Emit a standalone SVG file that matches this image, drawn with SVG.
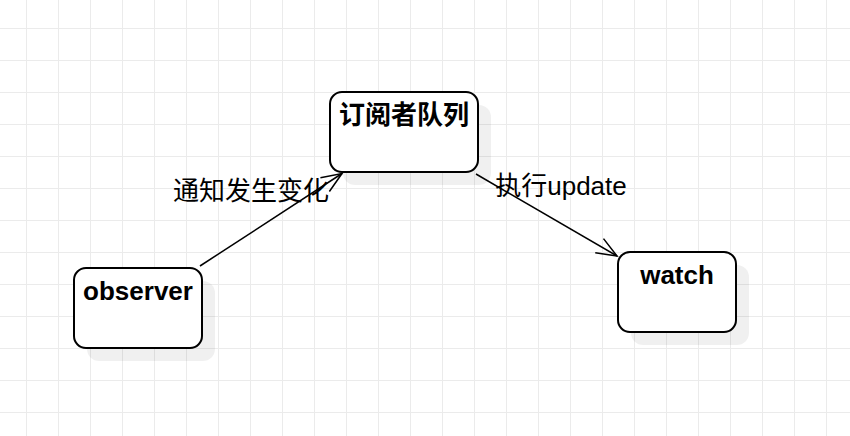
<svg xmlns="http://www.w3.org/2000/svg" width="850" height="436" viewBox="0 0 850 436">
<defs>
<pattern id="grid" x="26" y="28" width="32" height="32" patternUnits="userSpaceOnUse">
<path d="M0.5 0 V32 M0 0.5 H32" fill="none" stroke="#ebebeb" stroke-width="1"/>
</pattern>
<marker id="open" markerUnits="userSpaceOnUse" viewBox="-24 -12 28 24" refX="0" refY="0" markerWidth="28" markerHeight="24" orient="auto">
<path d="M-20.4 -8.2 L0 0 L-20.4 8.2" fill="none" stroke="#000" stroke-width="1.5"/>
</marker>
</defs>
<style>
.node{fill:#fff;stroke:#000;stroke-width:2}
.shadow{fill:#000;fill-opacity:0.06}
.title{font-family:"Liberation Sans","Noto Sans CJK SC",sans-serif;font-size:26px;font-weight:bold;text-anchor:middle;fill:#000}
.label{font-family:"Liberation Sans","Noto Sans CJK SC",sans-serif;font-size:26px;text-anchor:middle;fill:#000}
.edge{fill:none;stroke:#000;stroke-width:1.5;marker-end:url(#open)}
</style>
<rect width="850" height="436" fill="#fff"/>
<rect x="-1" y="-1" width="852" height="438" fill="url(#grid)"/>
<g id="connectors">
<path class="edge" d="M200 266 L342 173.5"/>
<path class="edge" d="M476 174 L617 256"/>
<text class="label" x="251" y="200">通知发生变化</text>
<text class="label" x="561" y="195">执行update</text>
</g>
<g id="queue">
<rect class="shadow" x="343" y="105" width="148" height="80" rx="12"/>
<rect class="node" x="330" y="92" width="148" height="80" rx="12"/>
<text class="title" x="404" y="124">订阅者队列</text>
</g>
<g id="observer">
<rect class="shadow" x="87" y="281" width="128" height="80" rx="12"/>
<rect class="node" x="74" y="268" width="128" height="80" rx="12"/>
<text class="title" x="138" y="300">observer</text>
</g>
<g id="watch">
<rect class="shadow" x="631" y="265" width="118" height="80" rx="12"/>
<rect class="node" x="618" y="252" width="118" height="80" rx="12"/>
<text class="title" x="677" y="284">watch</text>
</g>
</svg>
